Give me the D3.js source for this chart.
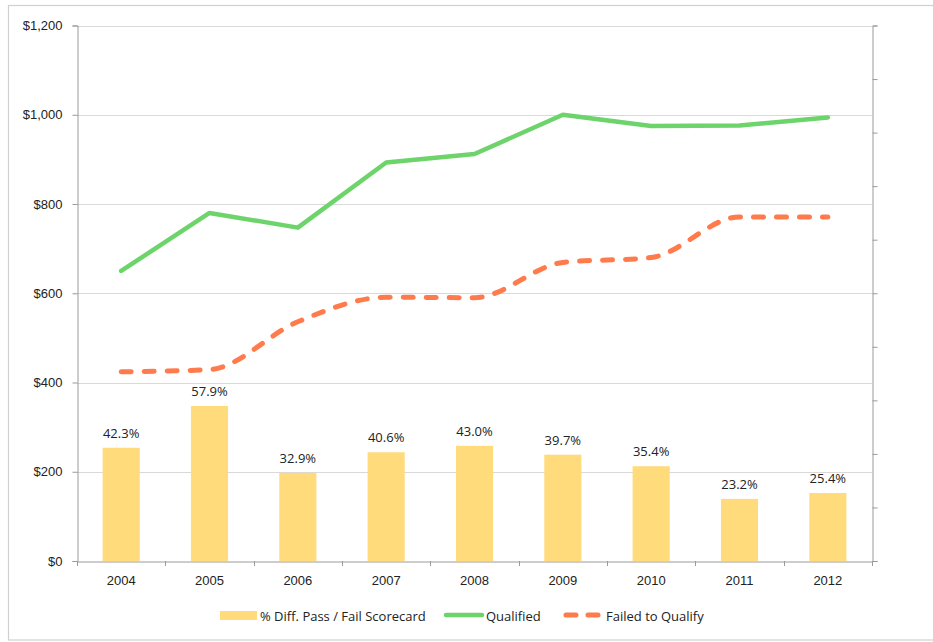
<!DOCTYPE html>
<html>
<head>
<meta charset="utf-8">
<script src="https://cdn.jsdelivr.net/npm/d3@7"></script>
<style>
  html, body { margin: 0; padding: 0; background: #fff; }
  svg { display: block; font-family: "Open Sans", "Noto Sans", sans-serif; }
</style>
</head>
<body>
<svg id="chart" width="933" height="642"></svg>
<script>
// Scorecard results by year
const years = ["2004", "2005", "2006", "2007", "2008", "2009", "2010", "2011", "2012"];
const pctDiff = [42.3, 57.9, 32.9, 40.6, 43.0, 39.7, 35.4, 23.2, 25.4];
const qualified = [650, 780, 747, 893, 912, 1000, 975, 976, 994];
const failedToQualify = [424, 429, 536, 591, 590, 669, 680, 771, 771];
const dollarTicks = [0, 200, 400, 600, 800, 1000, 1200];
const pctTicks = [0, 20, 40, 60, 80, 100, 120, 140, 160, 180, 200];
const legendLabels = ["% Diff. Pass / Fail Scorecard", "Qualified", "Failed to Qualify"];

const colors = { bar: "#FFDB7B", qualified: "#6CD46A", failed: "#FF7B4C" };
const fontSize = 13;

const svg = d3.select("#chart");
const plotLeft = 77, plotRight = 872, plotTop = 25.5, plotBottom = 561;

// outer frame
svg.append("rect")
  .attr("x", 8.5).attr("y", 5.5).attr("width", 940).attr("height", 634.5)
  .attr("fill", "none").attr("stroke", "#d0d0d0").attr("stroke-width", 1.2);

const x = d3.scaleBand().domain(years).range([plotLeft, plotRight]).paddingInner(0).paddingOuter(0);
const y = d3.scaleLinear().domain([0, 1200]).range([plotBottom, plotTop]);
const yPct = d3.scaleLinear().domain([0, 200]).range([plotBottom, plotTop]);

// gridlines
svg.append("g").selectAll("line").data(dollarTicks.slice(1)).join("line")
  .attr("x1", plotLeft).attr("x2", plotRight)
  .attr("y1", d => Math.round(y(d)) + 0.5).attr("y2", d => Math.round(y(d)) + 0.5)
  .attr("stroke", "#d9d9d9").attr("stroke-width", 1);

// left axis
const yAxis = svg.append("g").attr("transform", `translate(${plotLeft + 0.5},0)`)
  .call(d3.axisLeft(y).tickValues(dollarTicks).tickSize(5).tickPadding(10)
    .tickFormat(d => "$" + d3.format(",")(d)));
yAxis.select(".domain").attr("stroke", "#9a9a9a");
yAxis.selectAll(".tick line").attr("stroke", "#9a9a9a");
yAxis.selectAll("text").attr("font-size", fontSize).attr("fill", "#222");

// right axis (percent, unlabelled ticks)
const y2Axis = svg.append("g").attr("transform", `translate(${plotRight + 0.5},0)`)
  .call(d3.axisRight(yPct).tickValues(pctTicks).tickSize(5).tickFormat(""));
y2Axis.select(".domain").attr("stroke", "#9a9a9a");
y2Axis.selectAll(".tick line").attr("stroke", "#9a9a9a");

// bars (percent scale)
const barW = x.bandwidth() * 0.42;
svg.append("g").selectAll("rect").data(years).join("rect")
  .attr("x", d => x(d) + (x.bandwidth() - barW) / 2)
  .attr("width", barW)
  .attr("y", (d, i) => yPct(pctDiff[i]))
  .attr("height", (d, i) => plotBottom - yPct(pctDiff[i]))
  .attr("fill", colors.bar);

// bar value labels
svg.append("g").selectAll("text").data(years).join("text")
  .attr("x", d => x(d) + x.bandwidth() / 2)
  .attr("y", (d, i) => yPct(pctDiff[i]) - 10)
  .attr("text-anchor", "middle")
  .attr("font-size", fontSize).attr("fill", "#222")
  .text((d, i) => pctDiff[i].toFixed(1) + "%");

// bottom axis
const xAxis = svg.append("g").attr("transform", `translate(0,${plotBottom + 0.5})`)
  .call(d3.axisBottom(x).tickSize(0).tickPadding(14));
xAxis.select(".domain").attr("stroke", "#9a9a9a");
xAxis.selectAll("text").attr("font-size", fontSize).attr("fill", "#222");
// category boundary ticks
svg.append("g").selectAll("line").data(d3.range(years.length + 1)).join("line")
  .attr("x1", i => Math.round(plotLeft + i * x.bandwidth()) + 0.5)
  .attr("x2", i => Math.round(plotLeft + i * x.bandwidth()) + 0.5)
  .attr("y1", plotBottom).attr("y2", plotBottom + 5)
  .attr("stroke", "#9a9a9a");

const cx = d => x(d) + x.bandwidth() / 2;

// Qualified line
svg.append("path")
  .datum(years)
  .attr("d", d3.line().x(cx).y((d, i) => y(qualified[i])))
  .attr("fill", "none").attr("stroke", colors.qualified)
  .attr("stroke-width", 4.5).attr("stroke-linecap", "round").attr("stroke-linejoin", "round");

// Failed to Qualify line (smoothed, dashed)
svg.append("path")
  .datum(years)
  .attr("d", d3.line().curve(d3.curveMonotoneX).x(cx).y((d, i) => y(failedToQualify[i])))
  .attr("fill", "none").attr("stroke", colors.failed)
  .attr("stroke-width", 5).attr("stroke-linecap", "round")
  .attr("stroke-dasharray", "10,13");

// legend
const ly = 616;
const legend = svg.append("g").attr("font-size", fontSize).attr("fill", "#222");
legend.append("rect").attr("x", 220).attr("y", ly - 5).attr("width", 37).attr("height", 9).attr("fill", colors.bar);
legend.append("text").attr("x", 260).attr("y", ly + 4.5).text(legendLabels[0]);
legend.append("line").attr("x1", 446).attr("x2", 482).attr("y1", ly - 1).attr("y2", ly - 1)
  .attr("stroke", colors.qualified).attr("stroke-width", 4.5).attr("stroke-linecap", "round");
legend.append("text").attr("x", 486).attr("y", ly + 4.5).text(legendLabels[1]);
legend.append("line").attr("x1", 566).attr("x2", 598).attr("y1", ly - 1).attr("y2", ly - 1)
  .attr("stroke", colors.failed).attr("stroke-width", 5).attr("stroke-linecap", "round")
  .attr("stroke-dasharray", "10,12");
legend.append("text").attr("x", 606).attr("y", ly + 4.5).text(legendLabels[2]);
</script>
</body>
</html>
